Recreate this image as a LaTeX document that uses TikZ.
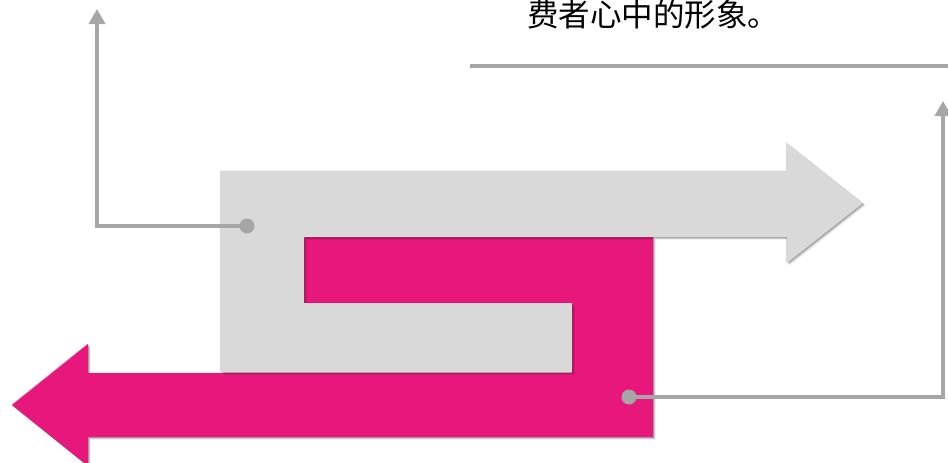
\documentclass[tikz,border=0pt]{standalone}
\usepackage{fontspec}
\newfontfamily\cjk{Noto Sans CJK SC}
\usetikzlibrary{arrows.meta,shadows}
\definecolor{lightfill}{HTML}{D9D9D9}
\definecolor{pinkfill}{HTML}{E8177B}
\definecolor{linegray}{HTML}{A6A6A6}
\tikzset{
  shapeshadow/.style={
    drop shadow={shadow xshift=2.5pt,shadow yshift=-2.5pt,opacity=0.08,fill=black},
    drop shadow={shadow xshift=1.8pt,shadow yshift=-1.8pt,opacity=0.12,fill=black},
    drop shadow={shadow xshift=1pt,shadow yshift=-1pt,opacity=0.2,fill=black},
    drop shadow={shadow xshift=-1pt,shadow yshift=0.5pt,opacity=0.15,fill=black}},
  conn/.style={draw=linegray,line width=3.5pt,-{Triangle[width=16pt,length=15pt]}},
  dotmark/.style={circle,fill=linegray,inner sep=0pt,minimum size=15pt},
  rule/.style={draw=linegray,line width=3.8pt}
}
\begin{document}
\begin{tikzpicture}[x=1pt,y=-1pt]
\useasboundingbox (0,0) rectangle (948,463);
\clip (0,0) rectangle (948,463);
% pink shape
\path[fill=pinkfill,shapeshadow] (304,237) -- (653,237) -- (653,437) -- (88,437) -- (88,466) -- (12,405) -- (88,344) -- (88,373) -- (572,373) -- (572,303) -- (304,303) -- cycle;
% gray shape
\path[fill=lightfill,shapeshadow] (221,171) -- (787,171) -- (787,143) -- (863,203) -- (787,263) -- (787,237) -- (304,237) -- (304,303) -- (572,303) -- (572,372) -- (221,372) -- cycle;
% text and rule
\node[anchor=base west,inner sep=0pt,font=\cjk\fontsize{31.5pt}{34pt}\selectfont] (txt) at (527,26) {费者心中的形象。};
\coordinate (r1) at (470,66);
\coordinate (r2) at (948,66);
\draw[rule] (r1) -- (r2);
% connectors
\node[dotmark] (d1) at (247,226) {};
\coordinate (c1) at (97,226);
\coordinate (t1) at (97,9);
\draw[conn] (d1.center) -- (c1) -- (t1);
\node[dotmark] (d2) at (629,397) {};
\coordinate (c2) at (943,397);
\coordinate (t2) at (943,101);
\draw[conn] (d2.center) -- (c2) -- (t2);
\end{tikzpicture}
\end{document}
